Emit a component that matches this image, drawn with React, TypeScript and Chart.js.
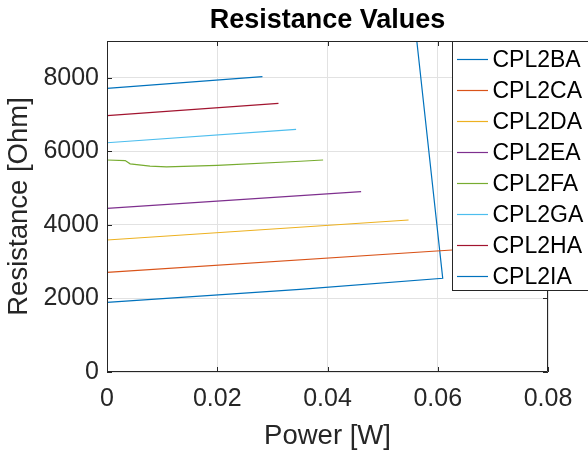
import React, { useEffect, useRef } from 'react';
import { Chart, registerables } from 'chart.js';

Chart.register(...registerables);

const chartTitle = 'Resistance Values';
const xAxisTitle = 'Power [W]';
const yAxisTitle = 'Resistance [Ohm]';

const xTicks = [0, 0.02, 0.04, 0.06, 0.08];
const xTickLabels = ['0', '0.02', '0.04', '0.06', '0.08'];
const yTicks = [0, 2000, 4000, 6000, 8000];
const yTickLabels = ['0', '2000', '4000', '6000', '8000'];

const seriesLabels = ['CPL2BA', 'CPL2CA', 'CPL2DA', 'CPL2EA', 'CPL2FA', 'CPL2GA', 'CPL2HA', 'CPL2IA'];
const seriesColors = ['#0072BD', '#D95319', '#EDB120', '#7E2F8E', '#77AC30', '#4DBEEE', '#A2142F', '#0072BD'];

const baPower = [0, 0, 0.0282];
const baResistance = [0, 7714, 8029];
const caPower = [0, 0.0626, 0.07];
const caResistance = [2711, 3317, 3389];
const daPower = [0, 0.0547];
const daResistance = [3589, 4133];
const eaPower = [0, 0.0461];
const eaResistance = [4451, 4902];
const faPower = [0, 0.0033, 0.0042, 0.0078, 0.0108, 0.02, 0.0351, 0.0392];
const faResistance = [5764, 5750, 5660, 5600, 5580, 5620, 5730, 5764];
const gaPower = [0, 0.0343];
const gaResistance = [6234, 6599];
const haPower = [0, 0.0311];
const haResistance = [6969, 7306];
const iaPower = [0, 0, 0.035, 0.0609, 0.0562, 0.0554];
const iaResistance = [0, 1895, 2248, 2548, 9000, 10000];

const seriesPower = [baPower, caPower, daPower, eaPower, faPower, gaPower, haPower, iaPower];
const seriesResistance = [baResistance, caResistance, daResistance, eaResistance, faResistance, gaResistance, haResistance, iaResistance];

const FONT = "'Liberation Sans', Arial, Helvetica, sans-serif";
const AXIS_COLOR = '#262626';

const matlabPlugin = {
  id: 'matlabFrame',
  afterDatasetsDraw(chart: any) {
    const { ctx, chartArea } = chart;
    const { left, right, top, bottom } = chartArea;
    const xs = chart.scales.x;
    const ys = chart.scales.y;
    ctx.save();
    ctx.strokeStyle = AXIS_COLOR;
    ctx.lineWidth = 1;
    ctx.beginPath();
    ctx.rect(left + 0.5, top + 0.5, right - left - 1, bottom - top - 1);
    ctx.stroke();
    const tl = 5;
    ctx.beginPath();
    xTicks.forEach((v) => {
      const px = Math.round(xs.getPixelForValue(v)) + 0.5;
      ctx.moveTo(px, bottom);
      ctx.lineTo(px, bottom - tl);
      ctx.moveTo(px, top);
      ctx.lineTo(px, top + tl);
    });
    yTicks.forEach((v) => {
      const py = Math.round(ys.getPixelForValue(v)) + 0.5;
      ctx.moveTo(left, py);
      ctx.lineTo(left + tl, py);
      ctx.moveTo(right, py);
      ctx.lineTo(right - tl, py);
    });
    ctx.stroke();
    ctx.restore();
  },
  afterDraw(chart: any) {
    const { ctx, chartArea } = chart;
    ctx.save();
    const lx = 452.5;
    const ly = 41.5;
    const lw = 160;
    const lh = 249;
    ctx.fillStyle = '#ffffff';
    ctx.fillRect(lx, ly, lw, lh);
    ctx.strokeStyle = AXIS_COLOR;
    ctx.lineWidth = 1;
    ctx.strokeRect(lx, ly, lw, lh);
    ctx.font = `23px ${FONT}`;
    ctx.textBaseline = 'middle';
    ctx.textAlign = 'left';
    chart.data.datasets.forEach((ds: any, i: number) => {
      const cy = 59.5 + i * 31;
      ctx.strokeStyle = ds.borderColor;
      ctx.lineWidth = 1.2;
      ctx.beginPath();
      ctx.moveTo(457, cy);
      ctx.lineTo(488, cy);
      ctx.stroke();
      ctx.fillStyle = '#000000';
      ctx.fillText(ds.label, 492.5, cy + 1);
    });
    ctx.font = `bold 27px ${FONT}`;
    ctx.textAlign = 'center';
    ctx.textBaseline = 'alphabetic';
    ctx.fillStyle = '#000000';
    ctx.fillText(chartTitle, (chartArea.left + chartArea.right) / 2, 27.5);
    ctx.restore();
  },
};

export default function App() {
  const canvasRef = useRef<HTMLCanvasElement | null>(null);

  useEffect(() => {
    if (!canvasRef.current) return;
    Chart.defaults.font.family = FONT;
    const datasets = seriesLabels.map((label, i) => ({
      label,
      data: seriesPower[i].map((p, j) => ({ x: p, y: seriesResistance[i][j] })),
      borderColor: seriesColors[i],
      backgroundColor: seriesColors[i],
      borderWidth: 1.2,
      pointRadius: 0,
      pointHoverRadius: 0,
      tension: 0,
      fill: false,
    }));
    const chart = new Chart(canvasRef.current, {
      type: 'line',
      data: { datasets },
      plugins: [matlabPlugin],
      options: {
        animation: false,
        responsive: false,
        devicePixelRatio: 1,
        events: [],
        layout: { padding: { top: 41, right: 40, left: 0, bottom: 0 } },
        plugins: {
          legend: { display: false },
          title: { display: false },
          tooltip: { enabled: false },
        },
        scales: {
          x: {
            type: 'linear',
            min: 0,
            max: 0.08,
            afterBuildTicks: (scale: any) => {
              scale.ticks = xTicks.map((v) => ({ value: v }));
            },
            afterFit: (scale: any) => {
              scale.height = 83;
            },
            ticks: {
              callback: (_v: any, i: number) => xTickLabels[i],
              font: { size: 25, family: FONT },
              color: AXIS_COLOR,
              padding: 12,
              maxRotation: 0,
            },
            grid: { color: '#e2e2e2', drawTicks: false, lineWidth: 1 },
            border: { display: false },
            title: {
              display: true,
              text: xAxisTitle,
              font: { size: 27.5, family: FONT },
              color: AXIS_COLOR,
              padding: { top: 0, bottom: 2.3 },
            },
          },
          y: {
            type: 'linear',
            min: 0,
            max: 9000,
            afterBuildTicks: (scale: any) => {
              scale.ticks = yTicks.map((v) => ({ value: v }));
            },
            afterFit: (scale: any) => {
              scale.width = 107;
            },
            ticks: {
              callback: (_v: any, i: number) => yTickLabels[i],
              font: { size: 25, family: FONT },
              color: AXIS_COLOR,
              padding: 8,
            },
            grid: { color: '#e2e2e2', drawTicks: false, lineWidth: 1 },
            border: { display: false },
            title: {
              display: true,
              text: yAxisTitle,
              font: { size: 27.5, family: FONT },
              color: AXIS_COLOR,
              padding: { top: 3, bottom: 0 },
            },
          },
        },
      },
    });
    return () => chart.destroy();
  }, []);

  return (
    <div style={{ position: 'fixed', left: 0, top: 0, width: 588, height: 455, background: '#fff' }}>
      <canvas ref={canvasRef} width={588} height={455} style={{ width: 588, height: 455 }} />
    </div>
  );
}
